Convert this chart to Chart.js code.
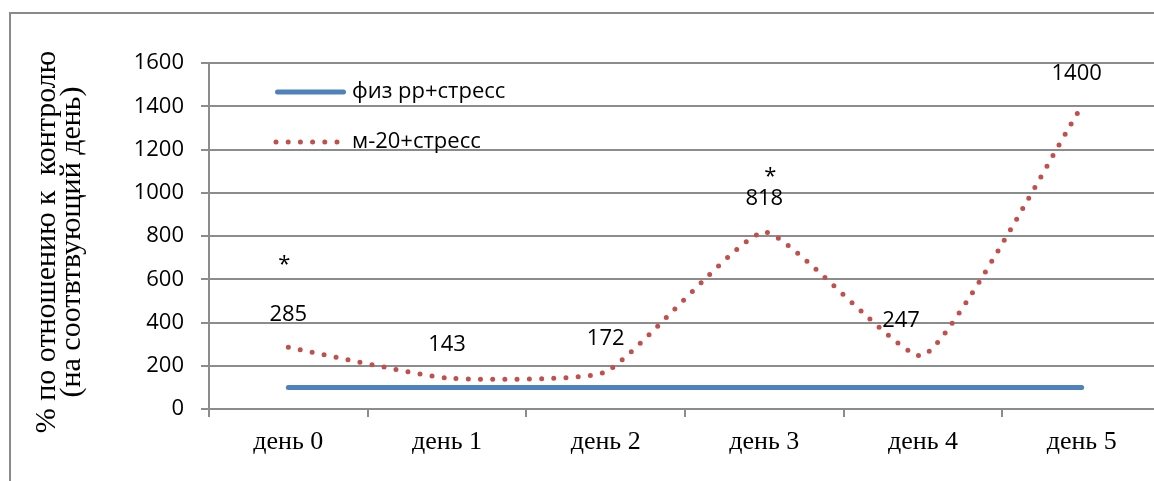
<!DOCTYPE html>
<html>
<head>
<meta charset="utf-8">
<script src="https://cdn.jsdelivr.net/npm/chart.js@4.4.1/dist/chart.umd.min.js"></script>
<style>
  html, body { margin: 0; padding: 0; background: #fff; overflow: hidden; }
  #wrap { position: relative; width: 1154px; height: 481px; overflow: hidden; }
  #box { position: absolute; left: 0; top: 0; width: 1161px; height: 481px; }
  #frame { position: absolute; left: 9px; top: 12px; width: 1200px; height: 520px; border: 2px solid #8a8a8a; pointer-events: none; }
</style>
</head>
<body>
<div id="wrap">
  <div id="box"><canvas id="chart"></canvas></div>
  <div id="frame"></div>
</div>
<script>
const days = ["день 0", "день 1", "день 2", "день 3", "день 4", "день 5"];
const physValues = [100, 100, 100, 100, 100, 100];
const m20Values = [285, 143, 172, 818, 247, 1400];
const starDays = [0, 3];
const starLevels = [666, 1073];
const yTitle = ["% по отношению к  контролю", "(на соотвтвующий день)"];

const gridColor = "#8c8c8c";
const sansFont = '"Open Sans", sans-serif';
const serifFont = '"Liberation Serif", "Times New Roman", serif';

const overlay = {
  id: "overlay",
  afterDatasetsDraw(chart, args, opts) {
    const ctx = chart.ctx;
    const x = chart.scales.x;
    const y = chart.scales.y;
    const area = chart.chartArea;
    ctx.save();

    // rotated axis title, two lines
    ctx.save();
    ctx.translate(area.left - 162, (area.top + area.bottom) / 2 + 6);
    ctx.rotate(-Math.PI / 2);
    ctx.font = "30px " + serifFont;
    ctx.fillStyle = "#000";
    ctx.textAlign = "center";
    ctx.textBaseline = "middle";
    yTitle.forEach((line, i) => ctx.fillText(line, 0, i * 25));
    ctx.restore();

    ctx.font = "22px " + sansFont;
    ctx.fillStyle = "#000";
    ctx.textAlign = "center";
    ctx.textBaseline = "middle";

    // value labels above the dotted series
    m20Values.forEach((v, i) => {
      const s = opts.labelShift[i] || [0, 0];
      ctx.fillText(String(v), x.getPixelForValue(i) + s[0], y.getPixelForValue(v) - 33 + s[1]);
    });

    // significance marks
    starDays.forEach((d, k) => {
      ctx.fillText("*", x.getPixelForValue(d) + opts.starShift[k], y.getPixelForValue(starLevels[k]));
    });

    // legend inside the plot
    const lx = area.left + 66;
    const ly = area.top + 29;
    chart.data.datasets.forEach((ds, i) => {
      const yy = ly + i * 50;
      ctx.save();
      ctx.strokeStyle = ds.borderColor;
      ctx.lineWidth = ds.borderWidth;
      ctx.lineCap = "round";
      ctx.setLineDash(ds.borderDash || []);
      ctx.beginPath();
      ctx.moveTo(lx + (ds.borderDash ? 1 : 2.5), yy);
      ctx.lineTo(lx + (ds.borderDash ? 67 : 68.5), yy);
      ctx.stroke();
      ctx.restore();
      ctx.textAlign = "left";
      ctx.fillText(ds.label, lx + 77, yy);
    });
    ctx.restore();
  }
};

new Chart(document.getElementById("chart"), {
  type: "line",
  data: {
    labels: days,
    datasets: [
      {
        label: "физ рр+стресс",
        data: physValues,
        borderColor: "#4F81BD",
        borderWidth: 5,
        borderCapStyle: "round",
        pointRadius: 0,
        fill: false
      },
      {
        label: "м-20+стресс",
        data: m20Values,
        borderColor: "#C0504D",
        borderWidth: 5,
        borderDash: [0, 12.2],
        borderCapStyle: "round",
        tension: 0.15,
        pointRadius: 0,
        fill: false
      }
    ]
  },
  options: {
    responsive: true,
    maintainAspectRatio: false,
    animation: false,
    layout: { padding: { top: 63, right: 0, bottom: 0, left: 0 } },
    plugins: {
      legend: { display: false },
      tooltip: { enabled: false },
      overlay: {
        labelShift: [[0, 0], [0, 0], [0, 0], [0, 0], [-22, -2], [-5, 0]],
        starShift: [-4, 6]
      }
    },
    scales: {
      x: {
        offset: true,
        afterFit(scale) { scale.height = 72; },
        grid: {
          offset: true,
          drawOnChartArea: false,
          drawTicks: true,
          tickLength: 8,
          color: gridColor,
          lineWidth: 2
        },
        border: { display: true, color: gridColor, width: 2 },
        ticks: {
          color: "#000",
          padding: 10,
          maxRotation: 0,
          font: { family: serifFont, size: 26 }
        }
      },
      y: {
        min: 0,
        max: 1600,
        afterFit(scale) { scale.width = 209; },
        grid: {
          color: gridColor,
          lineWidth: 2,
          tickLength: 8
        },
        border: { display: true, color: gridColor, width: 2 },
        ticks: {
          stepSize: 200,
          color: "#000",
          padding: 17,
          font: { family: sansFont, size: 22 },
          callback: (v) => String(v)
        }
      }
    }
  },
  plugins: [overlay]
});
</script>
</body>
</html>
